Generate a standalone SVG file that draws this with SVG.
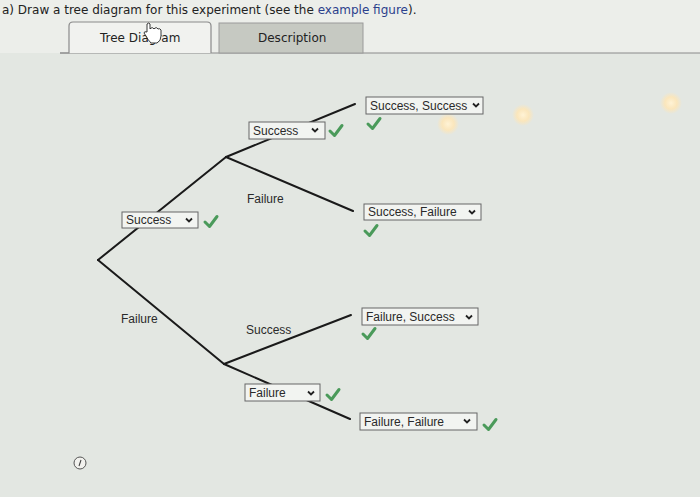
<svg xmlns="http://www.w3.org/2000/svg" width="700" height="497" viewBox="0 0 700 497">
<defs>
<radialGradient id="glare"><stop offset="0" stop-color="#fff3d6"/><stop offset="0.55" stop-color="#fde6b8" stop-opacity="0.9"/><stop offset="1" stop-color="#fde6b8" stop-opacity="0"/></radialGradient>
<g id="chev"><path d="M-3,-1.5 L0,1.5 L3,-1.5" fill="none" stroke="#222" stroke-width="1.8"/></g>
<g id="check"><path d="M-6,0 L-1.5,4.5 L6,-5.5" fill="none" stroke="#4a9a5a" stroke-width="3" stroke-linejoin="round" stroke-linecap="round"/></g>
</defs>
<style>
.t{font-family:"Liberation Sans",Arial,sans-serif;font-size:12px;fill:#2a2a2a}
.h{font-family:"DejaVu Sans",Verdana,sans-serif;font-size:12px;fill:#222}
.box{fill:#f2f4f1;stroke:#666;stroke-width:1}
.edge{stroke:#1a1a1a;stroke-width:2;fill:none;stroke-linecap:round}
</style>
<rect width="700" height="497" fill="#e3e7e2"/>
<rect width="700" height="53" fill="#eceeea"/>
<text class="h" x="2" y="14">a)  Draw a tree diagram for this experiment (see the <tspan fill="#2b3f8c">example figure</tspan>).</text>
<g id="tabs">
<line x1="60" y1="53" x2="700" y2="53" stroke="#8a8a8a" stroke-width="1.2"/>
<path d="M60,53 L69,53 L69,26 Q69,22 73,22 L207,22 Q211,22 211,26 L211,53" fill="#f1f2ef" stroke="#8a8a8a" stroke-width="1.2"/>
<rect x="219" y="23" width="144" height="30" fill="#c6c9c2" stroke="#9a9a9a"/>
<text class="h" x="100" y="42">Tree Diagram</text>
<text class="h" x="258" y="42">Description</text>
<path d="M147,30 l0,-6 q2,-2 3,0 l0,5 l1,-1 q2,-1 3,1 l1,-1 q2,-1 3,1 q2,-1 3,1 l0,6 q0,5 -4,7 l-6,0 q-3,-3 -5,-7 l-2,-3 q0,-2 3,-1 z" fill="#ffffff" stroke="#222" stroke-width="0.9"/>
</g>
<g id="glares">
<circle cx="448" cy="124" r="11" fill="url(#glare)"/>
<circle cx="523" cy="115" r="11" fill="url(#glare)"/>
<circle cx="671" cy="103" r="11" fill="url(#glare)"/>
</g>
<g id="connectors">
<line class="edge" x1="98" y1="260" x2="226" y2="157"/>
<line class="edge" x1="98" y1="260" x2="224" y2="364"/>
<line class="edge" x1="226" y1="157" x2="355" y2="104"/>
<line class="edge" x1="226" y1="157" x2="353" y2="211"/>
<line class="edge" x1="224" y1="364" x2="351" y2="315"/>
<line class="edge" x1="224" y1="364" x2="350" y2="419"/>
</g>
<g id="n1-success">
<rect class="box" x="122" y="212" width="76" height="16"/>
<text class="t" x="126" y="224">Success</text>
<use href="#chev" x="189" y="220"/>
<use href="#check" x="211" y="222"/>
</g>
<g id="n1-failure">
<text class="t" x="121" y="323">Failure</text>
</g>
<g id="n2-success">
<rect class="box" x="249" y="122" width="76" height="17"/>
<text class="t" x="253" y="135">Success</text>
<use href="#chev" x="315" y="130"/>
<use href="#check" x="336" y="131"/>
</g>
<g id="n2-failure">
<text class="t" x="247" y="203">Failure</text>
</g>
<g id="n3-success">
<text class="t" x="246" y="334">Success</text>
</g>
<g id="n3-failure">
<rect class="box" x="245" y="384" width="75" height="17"/>
<text class="t" x="249" y="397">Failure</text>
<use href="#chev" x="311" y="393"/>
<use href="#check" x="333" y="395"/>
</g>
<g id="ss">
<rect class="box" x="366" y="97" width="117" height="17"/>
<text class="t" x="370" y="110">Success, Success</text>
<use href="#chev" x="476" y="105"/>
<use href="#check" x="374" y="124"/>
</g>
<g id="sf">
<rect class="box" x="364" y="204" width="117" height="16"/>
<text class="t" x="368" y="216">Success, Failure</text>
<use href="#chev" x="472" y="212"/>
<use href="#check" x="371" y="231"/>
</g>
<g id="fs">
<rect class="box" x="362" y="308" width="116" height="17"/>
<text class="t" x="366" y="321">Failure, Success</text>
<use href="#chev" x="469" y="317"/>
<use href="#check" x="369" y="334"/>
</g>
<g id="ff">
<rect class="box" x="360" y="413" width="117" height="17"/>
<text class="t" x="364" y="426">Failure, Failure</text>
<use href="#chev" x="467" y="421"/>
<use href="#check" x="490" y="425"/>
</g>
<g id="info">
<circle cx="80" cy="463" r="6" fill="#f2f2ee" stroke="#555" stroke-width="1"/>
<line x1="79" y1="466" x2="81" y2="460" stroke="#444" stroke-width="1.1"/>
</g>
</svg>
